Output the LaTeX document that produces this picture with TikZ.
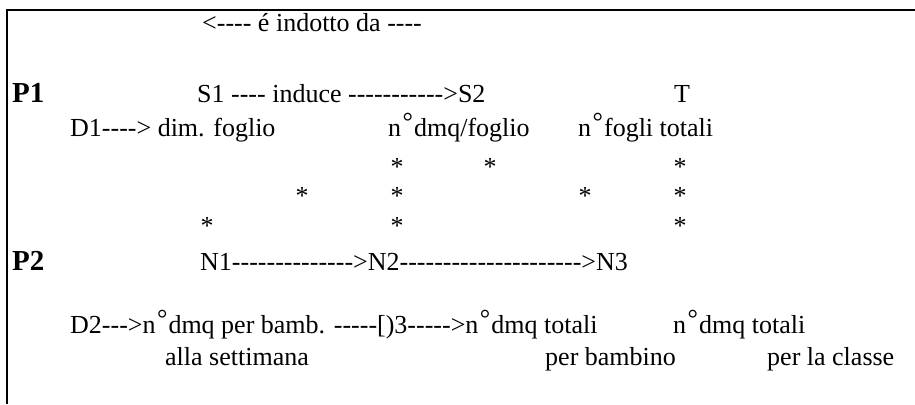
\documentclass[tikz,border=0pt]{standalone}
\usepackage{fontspec}
\setmainfont{Liberation Serif}[Ligatures=TeXOff]
\newcommand{\nro}{n\kern1.5pt\raisebox{0.2em}{°}\kern1pt}

\begin{document}
\begin{tikzpicture}[x=1pt,y=-1pt,
    txt/.style={anchor=base west,inner sep=0pt,font=\fontsize{26}{30}\selectfont},
    bigp/.style={anchor=base west,inner sep=0pt,font=\fontsize{29}{33}\selectfont\bfseries},
    ast/.style={anchor=base,inner sep=0pt,font=\fontsize{26}{30}\selectfont}]
    \useasboundingbox (0,0) rectangle (915,404);
    \draw[line width=2pt] (6.5,404) -- (6.5,10) -- (915,10);
    % top line
    \node[txt] (indotto) at (202,32) {<---- é indotto da ----};
    % P1
    \node[bigp] (p1) at (12,102) {P1};
    \node[txt] (s1) at (197,102) {S1 ---- induce ----------->S2};
    \node[ast] (t) at (682,102) {T};
    \node[txt] (d1) at (70,136) {D1----> dim. foglio};
    \node[txt] (dmqf) at (388,136) {\nro dmq/foglio};
    \node[txt] (fogli) at (578,136) {\nro fogli totali};
    \foreach \x/\y [count=\i] in {397/175,490/175,680/175,302/204,397/204,
        585/204,680/204,207/234,397/234,680/234}
      \node[ast] (ast\i) at (\x,\y) {*};
    % P2
    \node[bigp] (p2) at (12,270) {P2};
    \node[txt] (n1) at (200,270) {N1-------------->N2--------------------->N3};
    \node[txt] (d2) at (70,333) {D2--->\nro dmq per bamb. -----[)3----->\nro dmq totali};
    \node[txt] (dmqc) at (673,333) {\nro dmq totali};
    \node[txt] (alla) at (165,365) {alla settimana};
    \node[txt] (perb) at (545,365) {per bambino};
    \node[txt] (perc) at (767,365) {per la classe};
\end{tikzpicture}
\end{document}
